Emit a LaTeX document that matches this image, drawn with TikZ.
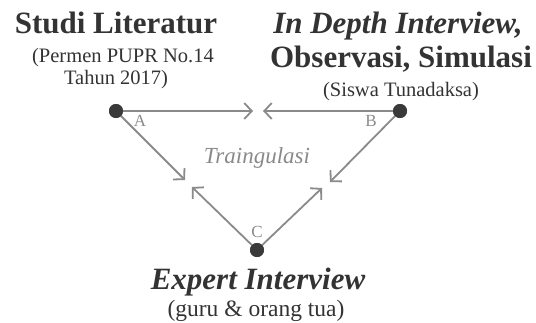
\documentclass[tikz,border=0pt]{standalone}
\usepackage{fontspec}
\setmainfont{Liberation Serif}
\usetikzlibrary{arrows.meta}
\definecolor{txt}{HTML}{333333}
\definecolor{arr}{HTML}{8A8A8A}
\definecolor{dotc}{HTML}{3A3A3A}
\begin{document}
\begin{tikzpicture}[x=1pt,y=-1pt,
  big/.style={anchor=base,inner sep=0pt,text=txt,font=\fontsize{31}{34}\selectfont\bfseries},
  bigit/.style={big,font=\fontsize{31}{34}\selectfont\bfseries\itshape},
  small/.style={anchor=base,inner sep=0pt,text=txt,font=\fontsize{20.5}{22}\selectfont},
  lbl/.style={inner sep=0pt,text=arr,font=\fontsize{17}{18}\selectfont},
  conn/.style={draw=arr,line width=1.8pt,-{Straight Barb[length=7.5pt,width=16pt,line width=1.8pt]}},
  dot/.style={circle,fill=dotc,inner sep=0pt,minimum size=14pt}]
\useasboundingbox (0,0) rectangle (536,322);
% titles
\node[big] (t1) at (116,33) {Studi Literatur};
\node[small] (t1a) at (123,62) {(Permen PUPR No.14};
\node[small] (t1b) at (116,84) {Tahun 2017)};
\node[bigit] (t2) at (398,33) {In Depth Interview,};
\node[big] (t2a) at (401,67) {Observasi, Simulasi};
\node[small] (t2b) at (401,96) {(Siswa Tunadaksa)};
\node[bigit] (t3) at (258,289) {Expert Interview};
\node[small,font=\fontsize{23.5}{26}\selectfont] (t3a) at (256,316) {(guru \& orang tua)};
% dots
\node[dot] (A) at (116,111) {};
\node[dot] (B) at (400,111) {};
\node[dot] (C) at (257,250) {};
\coordinate (ah) at (253,111);
\coordinate (bh) at (263,111);
\coordinate (ad) at (185,180);
\coordinate (bd) at (330,182);
\coordinate (cl) at (192,187);
\coordinate (cr) at (322,188);
\draw[conn] (A.center) -- (ah);
\draw[conn] (B.center) -- (bh);
\draw[conn] (A.center) -- (ad);
\draw[conn] (B.center) -- (bd);
\draw[conn] (C.center) -- (cl);
\draw[conn] (C.center) -- (cr);
\node[dot] at (A) {};
\node[dot] at (B) {};
\node[dot] at (C) {};
\node[lbl] (la) at (140,121) {A};
\node[lbl] (lb) at (371,121) {B};
\node[lbl] (lc) at (257,232) {C};
\node[lbl,font=\fontsize{23}{26}\selectfont\itshape] (tr) at (257,158) {Traingulasi};
\end{tikzpicture}
\end{document}
